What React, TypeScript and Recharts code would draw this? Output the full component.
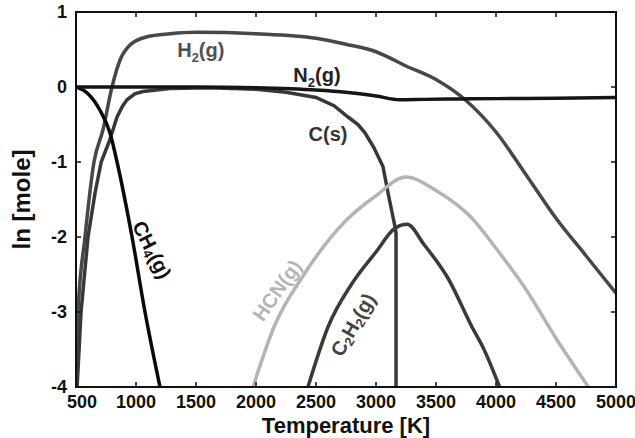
import React from 'react';
import { LineChart, Line, XAxis, YAxis, ReferenceDot } from 'recharts';

// temperature [K] vs ln(mole)
const tempTicks = [500, 1000, 1500, 2000, 2500, 3000, 3500, 4000, 4500, 5000];
const moleTicks = [-4, -3, -2, -1, 0, 1];
const tDomain = [500, 5000];
const vDomain = [-4, 1];

const h2Pts = [
  [500, -4.05], [517, -3], [575, -2], [650, -1], [725, -0.57], [800, 0], [867, 0.36],
  [950, 0.56], [1092, 0.67], [1283, 0.71], [1500, 0.73], [2000, 0.71], [2500, 0.65],
  [2750, 0.57], [3000, 0.47], [3250, 0.28], [3500, 0.1], [3750, -0.18], [4000, -0.6],
  [4250, -1.17], [4500, -1.75], [4750, -2.25], [5000, -2.75],
];
const n2Pts = [
  [500, 0], [1000, 0], [1500, 0], [2000, -0.01], [2500, -0.04], [2750, -0.07],
  [3000, -0.12], [3200, -0.17], [3400, -0.165], [3700, -0.16], [4000, -0.155],
  [4500, -0.15], [5000, -0.14],
];
const cSolidPts = [
  [506, -4.1], [542, -3], [600, -2], [660, -1.4], [710, -1], [783, -0.7], [842, -0.4],
  [890, -0.25], [925, -0.17], [990, -0.09], [1058, -0.06], [1283, -0.02], [1600, -0.01],
  [2000, -0.03], [2250, -0.07], [2500, -0.14], [2650, -0.25], [2767, -0.4], [2850, -0.5],
  [2908, -0.61], [2980, -0.8], [3058, -1.06], [3100, -1.41], [3158, -1.86], [3167, -1.95],
  [3167, -4.2],
];
const ch4Pts = [
  [500, 0], [600, -0.09], [700, -0.31], [783, -0.61], [842, -1], [967, -2], [1075, -3], [1200, -4],
];
const hcnPts = [
  [1975, -4], [2150, -3.2], [2400, -2.5], [2750, -1.78], [3000, -1.45], [3250, -1.2],
  [3500, -1.38], [3800, -1.75], [4000, -2.15], [4250, -2.7], [4500, -3.35], [4770, -4],
];
const c2h2Pts = [
  [2433, -4], [2600, -3.2], [2800, -2.62], [3000, -2.2], [3160, -1.88], [3260, -1.83],
  [3400, -2.1], [3600, -2.55], [3800, -3.2], [3900, -3.5], [4030, -4],
];

const toRows = (pts: number[][]) => pts.map(([t, v]) => ({ t, v }));

const series = [
  { name: 'H2(g)', pts: h2Pts, color: '#474747', curve: 'monotone' },
  { name: 'C(s)', pts: cSolidPts, color: '#383838', curve: 'linear' },
  { name: 'HCN(g)', pts: hcnPts, color: '#b4b4b4', curve: 'monotone' },
  { name: 'C2H2(g)', pts: c2h2Pts, color: '#3a3a3a', curve: 'monotone' },
  { name: 'CH4(g)', pts: ch4Pts, color: '#0a0a0a', curve: 'monotone' },
  { name: 'N2(g)', pts: n2Pts, color: '#151515', curve: 'monotone' },
];

// species labels: main text, subscript, rest
const labels = [
  { main: 'H', sub: '2', rest: '(g)', t: 1540, v: 0.4, angle: 0, color: '#505050' },
  { main: 'N', sub: '2', rest: '(g)', t: 2508, v: 0.067, angle: 0, color: '#222' },
  { main: 'C(s)', sub: '', rest: '', t: 2600, v: -0.72, angle: 0, color: '#333' },
  { main: 'CH', sub: '4', rest: '(g)', t: 1133, v: -2.17, angle: 63, color: '#111' },
  { main: 'HCN(g)', sub: '', rest: '', t: 2175, v: -2.71, angle: -55, color: '#b4b4b4' },
  { main: 'C', sub: '2', rest: 'H', t: 2808, v: -3.17, angle: -60, color: '#444', sub2: '2', rest2: '(g)' },
];

const W = 635;
const H = 438;
const margin = { top: 12, right: 19, bottom: 0, left: 0 };
const yAxisW = 76;
const xAxisH = 51;

const font = '"Liberation Sans", Arial, sans-serif';
const ink = '#111';
const tickStyle = { fill: ink, fontSize: 18, fontWeight: 700, fontFamily: font };
const titleStyle = { fill: ink, fontWeight: 700, fontFamily: font, textAnchor: 'middle' as const };

// plot box, same geometry as the chart's own layout, for the frame and inward ticks
const plotX = margin.left + yAxisW;
const plotY = margin.top;
const plotW = W - margin.right - plotX;
const plotH = H - margin.bottom - xAxisH - plotY;
const sx = (t: number) => plotX + ((t - tDomain[0]) / (tDomain[1] - tDomain[0])) * plotW;
const sy = (v: number) => plotY + ((vDomain[1] - v) / (vDomain[1] - vDomain[0])) * plotH;
const tickLen = 5;

const Frame = () => (
  <svg width={W} height={H} style={{ position: 'absolute', left: 0, top: 0, pointerEvents: 'none' }}>
    <rect x={plotX} y={plotY} width={plotW} height={plotH} fill="none" stroke={ink} strokeWidth={2} />
    {tempTicks.map((t) => (
      <g key={`x${t}`}>
        <line x1={sx(t)} x2={sx(t)} y1={plotY + plotH} y2={plotY + plotH - tickLen} stroke={ink} strokeWidth={1.5} />
        <line x1={sx(t)} x2={sx(t)} y1={plotY} y2={plotY + tickLen} stroke={ink} strokeWidth={1.5} />
      </g>
    ))}
    {moleTicks.map((v) => (
      <g key={`y${v}`}>
        <line x1={plotX} x2={plotX + tickLen} y1={sy(v)} y2={sy(v)} stroke={ink} strokeWidth={1.5} />
        <line x1={plotX + plotW} x2={plotX + plotW - tickLen} y1={sy(v)} y2={sy(v)} stroke={ink} strokeWidth={1.5} />
      </g>
    ))}
  </svg>
);

const XTick = (p: any) => {
  const shift = p.payload.value === 500 ? 6 : 0;
  return (
    <text x={p.x + shift} y={p.y + 13} textAnchor="middle" {...tickStyle}>
      {p.payload.value}
    </text>
  );
};

const labelShape = (l: any) => (props: any) => {
  const { cx, cy } = props;
  const rotated = l.angle !== 0;
  return (
    <text
      x={cx}
      y={cy}
      textAnchor="middle"
      dominantBaseline={rotated ? 'central' : 'alphabetic'}
      transform={rotated ? `rotate(${l.angle} ${cx} ${cy})` : undefined}
      fill={l.color}
      fontSize={20}
      fontWeight={700}
      fontFamily={font}
    >
      <tspan>{l.main}</tspan>
      {l.sub && <tspan dy={5} fontSize={13}>{l.sub}</tspan>}
      {l.rest && <tspan dy={l.sub ? -5 : 0}>{l.rest}</tspan>}
      {l.sub2 && <tspan dy={5} fontSize={13}>{l.sub2}</tspan>}
      {l.rest2 && <tspan dy={-5}>{l.rest2}</tspan>}
    </text>
  );
};

export default function App() {
  return (
    <div style={{ position: 'absolute', left: 0, top: 0, width: W, height: H, background: '#fff' }}>
      <LineChart width={W} height={H} margin={margin}>
        <XAxis
          dataKey="t"
          type="number"
          domain={tDomain}
          ticks={tempTicks}
          allowDataOverflow
          height={xAxisH}
          tickSize={0}
          tickMargin={8}
          tick={XTick}
          tickLine={false}
          axisLine={false}
          label={{ value: 'Temperature [K]', position: 'insideBottom', offset: 5, fontSize: 22, style: titleStyle }}
        />
        <YAxis
          type="number"
          domain={vDomain}
          ticks={moleTicks}
          allowDataOverflow
          width={yAxisW}
          tickSize={0}
          tickMargin={9}
          tick={tickStyle}
          tickLine={false}
          axisLine={false}
          label={{ value: 'ln [mole]', angle: -90, position: 'insideLeft', offset: 21, fontSize: 24, style: titleStyle }}
        />
        {series.map((s) => (
          <Line
            key={s.name}
            data={toRows(s.pts)}
            dataKey="v"
            type={s.curve as any}
            stroke={s.color}
            strokeWidth={3.5}
            dot={false}
            activeDot={false}
            isAnimationActive={false}
          />
        ))}
        {labels.map((l, i) => (
          <ReferenceDot key={i} x={l.t} y={l.v} r={0} ifOverflow="visible" shape={labelShape(l)} />
        ))}
      </LineChart>
      <Frame />
    </div>
  );
}
